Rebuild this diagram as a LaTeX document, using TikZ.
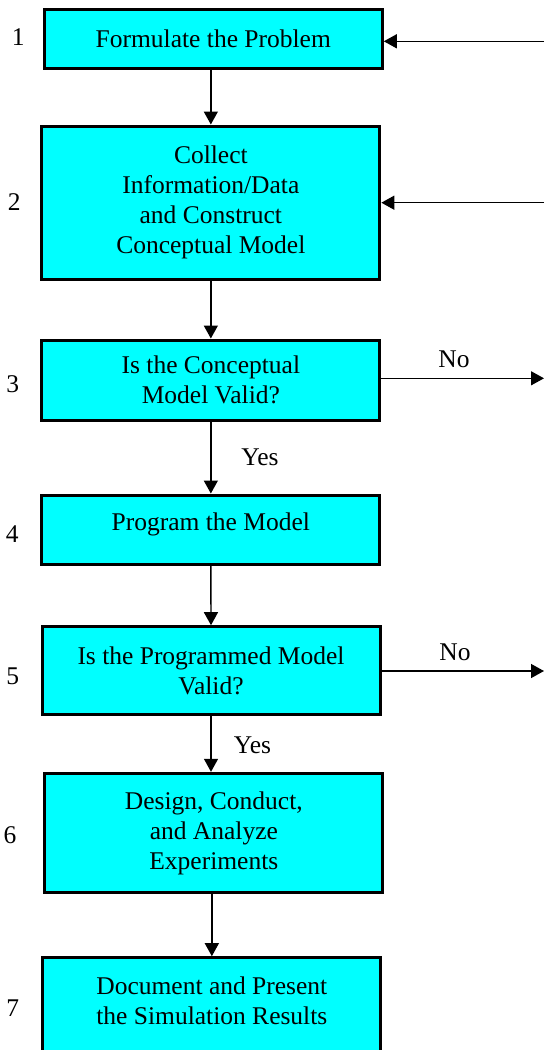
\documentclass[tikz,border=0pt]{standalone}
\usepackage{fontspec}
\setmainfont{Liberation Serif}
\usetikzlibrary{arrows.meta}
\definecolor{boxfill}{HTML}{00FFFF}
\tikzset{
  stepbox/.style={draw=black, fill=boxfill, line width=3pt, rectangle,
    minimum width=338pt, inner xsep=4pt, align=center},
  arr/.style={line width=1.4pt, -{Triangle[length=13pt,width=14pt]}},
  txt/.style={inner sep=0pt, anchor=base},
}
\begin{document}
\begin{tikzpicture}[x=1pt, y=-1pt,
    every node/.append style={font=\fontsize{25.5pt}{30pt}\selectfont}]
  \useasboundingbox (0,0) rectangle (544,1050);
  \clip (0,0) rectangle (544,1050);

  % process steps
  \node[stepbox, minimum height=59.2pt] (b1) at (213.3,38.9) {Formulate the Problem};
  \node[stepbox, minimum height=153pt] (b2) at (210.85,202.5)
    {Collect\\Information/Data\\and Construct\\Conceptual Model};
  \node[stepbox, minimum height=80pt] (b3) at (210.85,380)
    {Is the Conceptual\\Model Valid?};
  \node[stepbox, minimum height=69pt] (b4) at (210.85,529.5)
    {\raisebox{5pt}[\height][\depth]{Program the Model}};
  \node[stepbox, minimum height=87.6pt] (b5) at (211,670.5)
    {Is the Programmed Model\\Valid?};
  \node[stepbox, minimum height=119.4pt] (b6) at (213.85,833)
    {Design, Conduct,\\and Analyze\\Experiments};
  \node[stepbox, anchor=north, inner ysep=19.2pt] (b7) at (211.85,956.2)
    {\parbox[c][80pt][t]{300pt}{\centering Document and Present\\the Simulation Results}};

  % step numbers
  \node[txt] (n1) at (18.3,45) {1};
  \node[txt] (n2) at (14.3,210) {2};
  \node[txt] (n3) at (12.7,392.7) {3};
  \node[txt] (n4) at (12.3,542.3) {4};
  \node[txt] (n5) at (12.7,684) {5};
  \node[txt] (n6) at (10,843.3) {6};
  \node[txt] (n7) at (12.7,1016) {7};

  % main flow
  \draw[arr] (b1.south -| b2.north) -- (b2.north);
  \draw[arr] (b2.south) -- (b3.north);
  \draw[arr] (b3.south) -- (b4.north);
  \draw[arr] (b4.south) -- (b5.north);
  \draw[arr] (b5.south) -- (b5.south |- b6.north);
  \draw[arr] (b6.south -| b7.north) -- (b7.north);

  % branch ends at the right margin
  \coordinate (in1) at (544,41.3);
  \coordinate (in2) at (544,202.7);
  \coordinate (out3) at (544,378.3);
  \coordinate (out5) at (544,671);
  \draw[arr] (in1) -- (in1 -| b1.east);
  \draw[arr] (in2) -- (in2 -| b2.east);
  \draw[arr] (out3 -| b3.east) -- (out3);
  \draw[arr] (out5 -| b5.east) -- (out5);

  % branch labels
  \node[txt] (no3) at (454,367.3) {No};
  \node[txt] (no5) at (455,660) {No};
  \node[txt] (yes3) at (260,465) {Yes};
  \node[txt] (yes5) at (252.5,753.3) {Yes};
\end{tikzpicture}
\end{document}
